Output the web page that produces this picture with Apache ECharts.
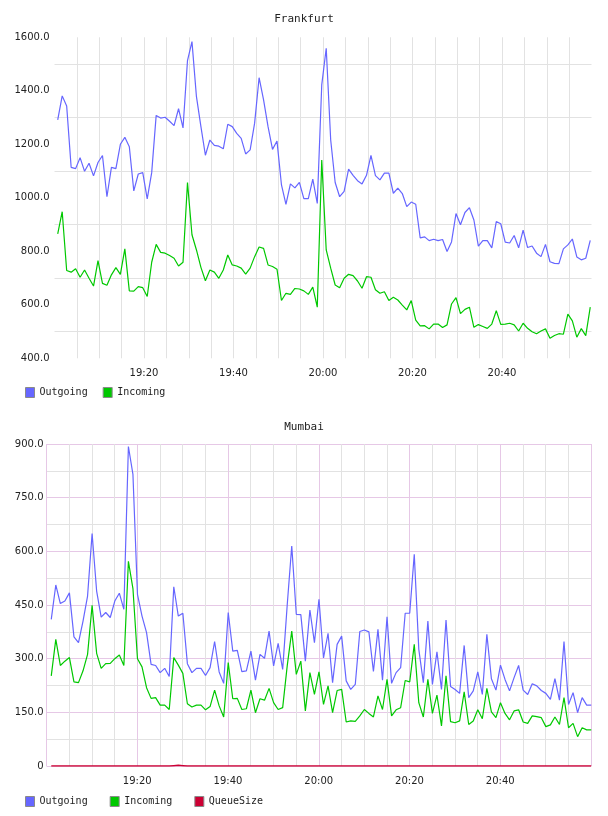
<!DOCTYPE html>
<html>
<head>
<meta charset="utf-8">
<script src="https://cdn.jsdelivr.net/npm/echarts@6/dist/echarts.min.js"></script>
<style>
  html, body { margin: 0; padding: 0; background: #ffffff; }
  #main { width: 608px; height: 816px; }
</style>
</head>
<body>
<div id="main"></div>
<script>
// minutes after 19:00 of the first sample, one sample a minute
var frankfurtStart = 0.72;
var mumbaiStart = 1.05;

var timeLabels = ['19:00', '19:20', '19:40', '20:00', '20:20', '20:40', '21:00'];

var frankfurtOutgoing = [
  1291, 1381, 1343, 1114, 1109, 1150, 1099, 1129, 1082, 1132,
  1158, 1004, 1114, 1109, 1200, 1226, 1191, 1026, 1089, 1094,
  996, 1094, 1308, 1298, 1301, 1286, 1270, 1333, 1261, 1513,
  1584, 1378, 1266, 1159, 1216, 1196, 1193, 1183, 1275, 1266,
  1241, 1222, 1164, 1179, 1279, 1449, 1366, 1266, 1181, 1212,
  1048, 975, 1052, 1037, 1058, 997, 997, 1070, 979, 1422,
  1559, 1216, 1057, 1004, 1024, 1107, 1084, 1064, 1052, 1084,
  1159, 1083, 1067, 1092, 1092, 1017, 1036, 1016, 967, 984,
  976, 850, 854, 840, 845, 840, 844, 799, 835, 941,
  899, 945, 963, 917, 819, 840, 840, 813, 911, 903,
  834, 831, 859, 813, 879, 814, 820, 793, 780, 826,
  761, 755, 754, 809, 824, 846, 779, 768, 774, 841
];
var frankfurtIncoming = [
  865, 948, 728, 722, 735, 703, 730, 699, 670, 765,
  680, 673, 712, 739, 714, 809, 652, 651, 668, 664,
  631, 759, 826, 796, 793, 784, 774, 745, 759, 1057,
  862, 805, 740, 690, 730, 722, 699, 730, 786, 749,
  745, 737, 715, 737, 780, 816, 811, 749, 743, 733,
  616, 643, 639, 661, 659, 652, 639, 666, 591, 1141,
  805, 737, 674, 664, 699, 714, 709, 689, 662, 705,
  703, 656, 643, 649, 616, 628, 618, 599, 581, 616,
  543, 521, 522, 510, 528, 528, 515, 525, 603, 627,
  567, 583, 591, 516, 526, 519, 512, 528, 578, 527,
  528, 531, 525, 502, 531, 512, 499, 492, 502, 510,
  475, 485, 492, 490, 565, 540, 479, 511, 485, 591
];

var mumbaiOutgoing = [
  410, 506, 454, 461, 484, 361, 345, 405, 475, 650,
  489, 416, 429, 415, 461, 483, 438, 893, 815, 480,
  419, 373, 284, 281, 261, 273, 250, 501, 419, 427,
  286, 261, 273, 273, 253, 275, 348, 263, 231, 429,
  321, 323, 264, 266, 321, 240, 312, 301, 377, 280,
  343, 270, 450, 615, 424, 423, 293, 436, 345, 466,
  302, 371, 233, 340, 363, 238, 214, 228, 376, 380,
  375, 264, 382, 240, 417, 231, 261, 275, 427, 427,
  592, 326, 233, 405, 228, 319, 214, 408, 222, 214,
  203, 337, 191, 210, 263, 200, 368, 244, 212, 282,
  242, 210, 247, 281, 212, 200, 230, 224, 211, 203,
  186, 244, 184, 348, 172, 205, 149, 191, 170, 170
];
var mumbaiIncoming = [
  252, 354, 281, 293, 303, 235, 233, 266, 312, 449,
  315, 273, 286, 287, 300, 310, 281, 572, 496, 300,
  277, 219, 189, 191, 170, 170, 158, 303, 282, 259,
  174, 165, 170, 170, 157, 166, 212, 168, 137, 289,
  188, 189, 158, 160, 212, 149, 188, 184, 217, 177,
  158, 163, 280, 377, 256, 293, 154, 261, 200, 263,
  172, 224, 149, 211, 214, 123, 126, 125, 140, 158,
  147, 137, 196, 158, 242, 140, 157, 163, 239, 235,
  340, 177, 137, 242, 147, 198, 112, 252, 124, 121,
  126, 207, 116, 126, 157, 132, 217, 151, 135, 177,
  147, 129, 154, 157, 123, 119, 140, 138, 135, 110,
  115, 137, 116, 191, 107, 119, 82, 107, 101, 101
];
var mumbaiQueueSize = [
  0, 0, 0, 0, 0, 0, 0, 0, 0, 0,
  0, 0, 0, 0, 0, 0, 0, 0, 0, 0,
  0, 0, 0, 0, 0, 0, 0, 1, 2, 1,
  0, 0, 0, 0, 0, 0, 0, 0, 0, 0,
  0, 0, 0, 0, 0, 0, 0, 0, 0, 0,
  0, 0, 0, 0, 0, 0, 0, 0, 0, 0,
  0, 0, 0, 0, 0, 0, 0, 0, 0, 0,
  0, 0, 0, 0, 0, 0, 0, 0, 0, 0,
  0, 0, 0, 0, 0, 0, 0, 0, 0, 0,
  0, 0, 0, 0, 0, 0, 0, 0, 0, 0,
  0, 0, 0, 0, 0, 0, 0, 0, 0, 0,
  0, 0, 0, 0, 0, 0, 0, 0, 0, 0
];

var BLUE = '#6666ff';
var GREEN = '#00c800';
var RED = '#cc0033';
var GRAY = '#e2e2e2';
var PINK = '#e6c8e6';
var sansFont = 'DejaVu Sans';
var monoFont = 'DejaVu Sans Mono';

function pairs(start, values) {
  return values.map(function (v, i) { return [start + i, v]; });
}

function xAxisFor(grid, major, edges) {
  return {
    gridIndex: grid,
    type: 'value',
    min: 0,
    max: 120,
    interval: 20,
    axisLine: { show: false },
    axisTick: { show: false },
    axisLabel: {
      showMinLabel: false,
      showMaxLabel: false,
      margin: 10,
      fontFamily: sansFont,
      fontSize: 10,
      color: '#222',
      formatter: function (v) { return timeLabels[Math.round(v / 20)]; }
    },
    splitLine: { show: true, showMinLine: edges, showMaxLine: edges, lineStyle: { color: major, width: 1 } },
    minorTick: { show: false, splitNumber: 4 },
    minorSplitLine: { show: true, lineStyle: { color: GRAY, width: 1 } }
  };
}

function yAxisFor(grid, min, max, interval, major, margin) {
  return {
    gridIndex: grid,
    type: 'value',
    min: min,
    max: max,
    interval: interval,
    axisLine: { show: false },
    axisTick: { show: false },
    axisLabel: {
      margin: margin,
      fontFamily: sansFont,
      fontSize: 10,
      color: '#222',
      formatter: function (v) { return v === 0 ? '0' : v.toFixed(1); }
    },
    splitLine: major ? { show: true, lineStyle: { color: major, width: 1 } } : { show: false },
    minorTick: { show: false, splitNumber: 2 },
    minorSplitLine: { show: true, lineStyle: { color: GRAY, width: 1 } }
  };
}

function line(name, color, data, idx, width) {
  return {
    name: name,
    type: 'line',
    xAxisIndex: idx,
    yAxisIndex: idx,
    data: data,
    symbol: 'none',
    color: color,
    lineStyle: { color: color, width: width || 1.2 },
    silent: true,
    animation: false
  };
}

function legendFor(names, top, gap) {
  return {
    data: names,
    left: 25,
    top: top,
    orient: 'horizontal',
    icon: 'rect',
    itemWidth: 9,
    itemHeight: 10,
    itemGap: gap,
    padding: 0,
    selectedMode: false,
    itemStyle: { borderColor: '#8a8a8a', borderWidth: 1 },
    textStyle: { fontFamily: monoFont, fontSize: 10, color: '#222' }
  };
}

var chart = echarts.init(document.getElementById('main'), null, { renderer: 'canvas' });

chart.setOption({
  backgroundColor: '#ffffff',
  animation: false,
  title: [{
    text: 'Frankfurt', left: 'center', top: 14, padding: 0,
    textStyle: { fontFamily: monoFont, fontSize: 11, fontWeight: 'normal', color: '#222' }
  }, {
    text: 'Mumbai', left: 'center', top: 422, padding: 0,
    textStyle: { fontFamily: monoFont, fontSize: 11, fontWeight: 'normal', color: '#222' }
  }],
  legend: [
    legendFor(['Outgoing', 'Incoming'], 387, 15),
    legendFor(['Outgoing', 'Incoming', 'QueueSize'], 796, 22)
  ],
  grid: [
    { left: 54.5, top: 37.3, width: 537, height: 321 },
    { left: 46.5, top: 444, width: 544.5, height: 322 }
  ],
  xAxis: [xAxisFor(0, GRAY, false), xAxisFor(1, PINK, true)],
  yAxis: [
    yAxisFor(0, 400, 1600, 200, null, 5),
    yAxisFor(1, 0, 900, 150, PINK, 3)
  ],
  series: [
    line('Outgoing', BLUE, pairs(frankfurtStart, frankfurtOutgoing), 0),
    line('Incoming', GREEN, pairs(frankfurtStart, frankfurtIncoming), 0),
    line('Outgoing', BLUE, pairs(mumbaiStart, mumbaiOutgoing), 1),
    line('Incoming', GREEN, pairs(mumbaiStart, mumbaiIncoming), 1),
    line('QueueSize', RED, pairs(mumbaiStart, mumbaiQueueSize), 1, 1.5)
  ]
});
</script>
</body>
</html>
